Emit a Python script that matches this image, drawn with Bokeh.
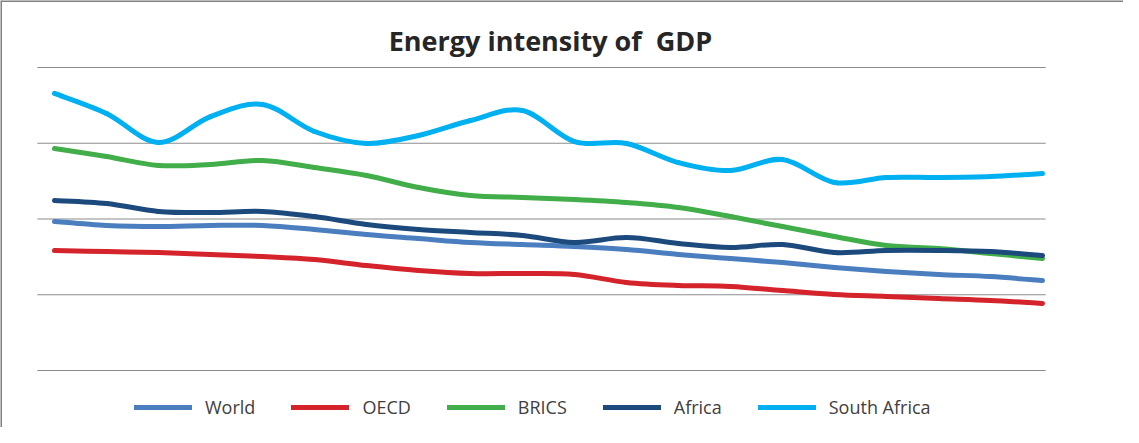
from bokeh.plotting import figure
from bokeh.models import Range1d, Label, Legend, LegendItem, Span
from bokeh.embed import file_html
from bokeh.resources import INLINE

# ---- data ----
years = list(range(1990, 2010))
world = [7.87, 7.66, 7.60, 7.66, 7.66, 7.45, 7.18, 6.97, 6.76, 6.65,
         6.55, 6.39, 6.13, 5.91, 5.70, 5.44, 5.23, 5.07, 4.96, 4.75]
oecd = [6.34, 6.28, 6.23, 6.13, 6.02, 5.86, 5.54, 5.28, 5.12, 5.12,
        5.07, 4.65, 4.49, 4.44, 4.22, 4.01, 3.91, 3.80, 3.70, 3.54]
brics = [11.72, 11.30, 10.83, 10.88, 11.09, 10.72, 10.30, 9.66, 9.24, 9.14,
         9.03, 8.87, 8.61, 8.13, 7.60, 7.08, 6.60, 6.44, 6.18, 5.91]
africa = [8.98, 8.82, 8.40, 8.34, 8.40, 8.13, 7.71, 7.45, 7.29, 7.13,
          6.76, 7.02, 6.71, 6.50, 6.65, 6.23, 6.34, 6.34, 6.28, 6.07]
south_africa = [14.63, 13.57, 12.04, 13.41, 14.05, 12.62, 11.99, 12.41, 13.20, 13.73,
                12.09, 11.99, 10.98, 10.56, 11.14, 9.93, 10.19, 10.19, 10.24, 10.40]
grid_values = [0, 4, 8, 12, 16]
series_names = ["World", "OECD", "BRICS", "Africa", "South Africa"]
series_colors = ["#4A7EBF", "#D4232B", "#41AE49", "#1D4A7C", "#00B0F0"]
title_text = "Energy intensity of\u00a0 GDP"

# ---- layout ----
W, H = 1123, 427
px_per_year = 52.0
px_per_unit = 303.0 / 16.0
x0 = years[0] - 54.0 / px_per_year
y0 = -57.0 / px_per_unit

p = figure(width=W, height=H, output_backend="svg", toolbar_location=None,
           x_axis_location=None, y_axis_location=None, min_border=0,
           x_range=Range1d(x0, x0 + W / px_per_year),
           y_range=Range1d(y0, y0 + H / px_per_unit), title=None)
p.grid.visible = False
p.outline_line_color = None
p.background_fill_color = "white"
p.border_fill_color = "white"

# gridlines
p.segment(x0=[years[0] - 0.33] * len(grid_values), x1=[years[-1] + 0.06] * len(grid_values),
          y0=grid_values, y1=grid_values, line_color="#8C8C8C", line_width=1.2)

# border (top and left)
p.add_layout(Span(location=y0 + H / px_per_unit, dimension="width", line_color="#808080", line_width=3))
p.add_layout(Span(location=x0, dimension="height", line_color="#808080", line_width=3))


def smooth_segments(xs, ys):
    """Bezier control points for a smoothed line through the data points."""
    n = len(xs)
    out = {k: [] for k in ("x0", "y0", "x1", "y1", "cx0", "cy0", "cx1", "cy1")}
    for i in range(n - 1):
        a = max(i - 1, 0)
        d = min(i + 2, n - 1)
        out["x0"].append(xs[i]); out["y0"].append(ys[i])
        out["x1"].append(xs[i + 1]); out["y1"].append(ys[i + 1])
        out["cx0"].append(xs[i] + (xs[i + 1] - xs[a]) / 6.0)
        out["cy0"].append(ys[i] + (ys[i + 1] - ys[a]) / 6.0)
        out["cx1"].append(xs[i + 1] - (xs[d] - xs[i]) / 6.0)
        out["cy1"].append(ys[i + 1] - (ys[d] - ys[i]) / 6.0)
    return out


items = []
for name, ys, col in zip(series_names, [world, oecd, brics, africa, south_africa], series_colors):
    seg = smooth_segments(years, ys)
    r = p.bezier(line_color=col, line_width=5, line_cap="round", **seg)
    items.append(LegendItem(label=name, renderers=[r]))

legend = Legend(items=items, location=(134, 8), orientation="horizontal",
                glyph_width=58, glyph_height=20, label_height=20, label_standoff=13,
                spacing=36, padding=0, margin=0, border_line_color=None,
                background_fill_alpha=0, label_text_font="Open Sans",
                label_text_font_size="18px", label_text_color="#404040")
p.add_layout(legend, "center")

p.add_layout(Label(x=550, y=387, x_units="screen", y_units="screen", text=title_text,
                   text_align="center", text_baseline="alphabetic", text_font="Open Sans",
                   text_font_style="bold", text_font_size="27px", text_color="#262626"))

open("out.html", "w").write(file_html(p, INLINE))
